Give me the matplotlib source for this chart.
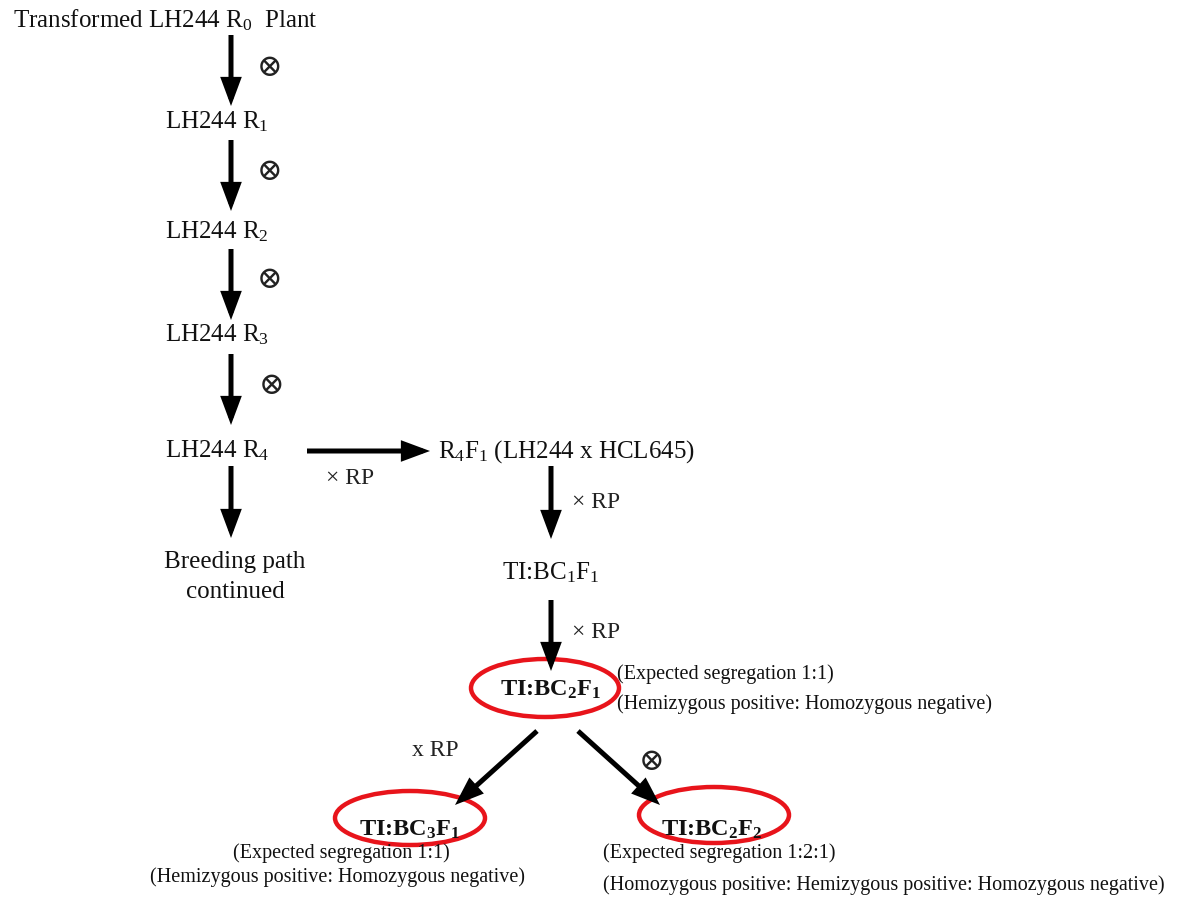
import matplotlib
matplotlib.use("Agg")
import matplotlib.pyplot as plt
from matplotlib.patches import Ellipse

plt.rcParams['font.family'] = ['Liberation Serif', 'DejaVu Serif']
plt.rcParams['mathtext.fontset'] = 'custom'
plt.rcParams['mathtext.rm'] = 'Liberation Serif'
plt.rcParams['mathtext.it'] = 'Liberation Serif:italic'
plt.rcParams['mathtext.bf'] = 'Liberation Serif:bold'

W, H = 1178, 897

# Node labels and positions (pixel coords, y down)
node_labels = [r"Transformed LH244 R$_0$  Plant", r"LH244 R$_1$", r"LH244 R$_2$",
               r"LH244 R$_3$", r"LH244 R$_4$", "Breeding path\ncontinued",
               r"R$_4$F$_1$ (LH244 x HCL645)", r"TI:BC$_1$F$_1$"]
node_x = [165, 217, 217, 217, 217, 235, 566, 551]
node_y = [20, 122, 232, 335, 451, 577, 452, 573]

bold_labels = [r"TI:BC$_\mathbf{2}$F$_\mathbf{1}$", r"TI:BC$_\mathbf{3}$F$_\mathbf{1}$",
               r"TI:BC$_\mathbf{2}$F$_\mathbf{2}$"]
bold_x = [551, 410, 712]
bold_y = [690, 830, 830]

# Arrows (start, end)
arrows = [((231, 35), (231, 106)), ((231, 140), (231, 211)), ((231, 249), (231, 320)),
          ((231, 354), (231, 425)), ((231, 466), (231, 538)), ((307, 451), (430, 451)),
          ((551, 466), (551, 539)), ((551, 600), (551, 671)),
          ((537, 731), (455, 805)), ((578, 731), (660, 805))]

cross_labels = ["⊗", "⊗", "⊗", "⊗", "× RP", "× RP", "× RP", "x RP", "⊗"]
cross_x = [269, 269, 269, 271, 350, 596, 596, 435, 651]
cross_y = [67, 172, 280, 385, 478, 502, 632, 750, 761]
cross_size = [22, 22, 22, 22, 17, 17, 17, 17, 22]

ellipse_cx = [545, 410, 714]
ellipse_cy = [688, 818, 815]
ellipse_w = [148, 150, 150]
ellipse_h = [58, 54, 56]

notes = ["(Expected segregation 1:1)", "(Hemizygous positive: Homozygous negative)",
         "(Expected segregation 1:1)", "(Hemizygous positive: Homozygous negative)",
         "(Expected segregation 1:2:1)",
         "(Homozygous positive: Hemizygous positive: Homozygous negative)"]
notes_x = [617, 617, 341, 337, 603, 603]
notes_y = [674, 704, 853, 877, 853, 885]
notes_ha = ['left', 'left', 'center', 'center', 'left', 'left']

fig = plt.figure(figsize=(W / 100, H / 100), dpi=100)
ax = fig.add_axes([0, 0, 1, 1])
ax.set_xlim(0, W)
ax.set_ylim(H, 0)
ax.axis('off')

for lab, x, y in zip(node_labels, node_x, node_y):
    ax.text(x, y, lab, ha='center', va='center', fontsize=18, color='#111111',
            linespacing=1.45)

for lab, x, y in zip(bold_labels, bold_x, bold_y):
    ax.text(x, y, lab, ha='center', va='center', fontsize=17.5, fontweight='bold',
            color='#111111')

for (s, e) in arrows:
    ax.annotate("", xy=e, xytext=s,
                arrowprops=dict(arrowstyle='-|>,head_length=0.7,head_width=0.26',
                                lw=3.6, color='black', mutation_scale=20,
                                shrinkA=0, shrinkB=0, joinstyle='miter',
                                capstyle='butt'))

for lab, x, y, fs in zip(cross_labels, cross_x, cross_y, cross_size):
    ax.text(x, y, lab, ha='center', va='center', fontsize=fs, color='#222222',
            family=['DejaVu Serif', 'Liberation Serif'] if lab == "⊗" else None)

for cx, cy, w, h in zip(ellipse_cx, ellipse_cy, ellipse_w, ellipse_h):
    ax.add_patch(Ellipse((cx, cy), w, h, fill=False, edgecolor='#e8141b', lw=3.2))

for lab, x, y, ha in zip(notes, notes_x, notes_y, notes_ha):
    ax.text(x, y, lab, ha=ha, va='center', fontsize=14.5, color='#111111')

fig.savefig("out.png", dpi=100)
